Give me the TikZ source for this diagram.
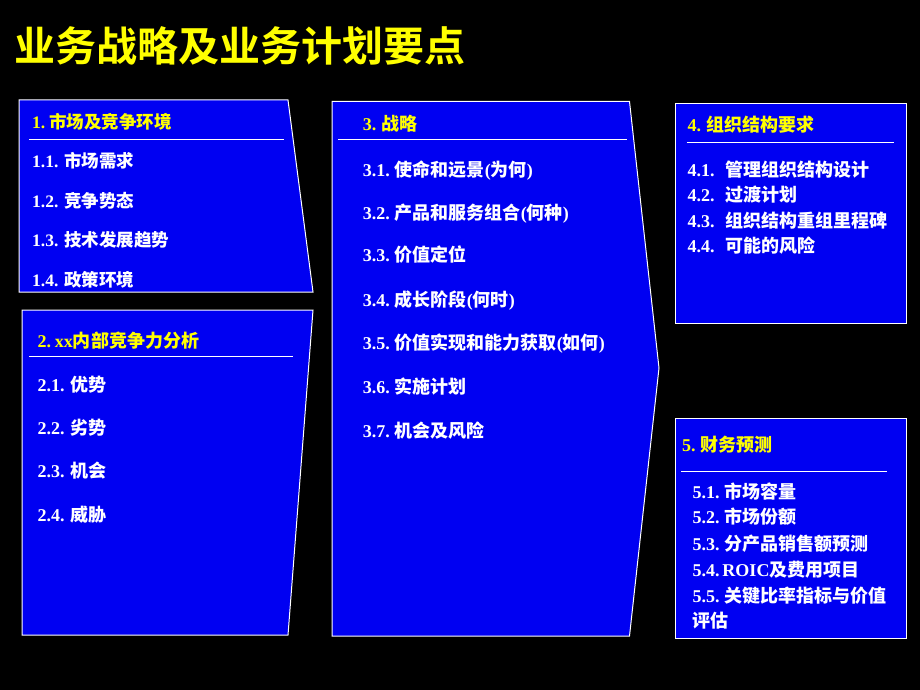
\documentclass[tikz,border=0pt]{standalone}
\usepackage{fontspec}
\setmainfont{Liberation Serif}
\newfontfamily\zhfont{Noto Sans CJK SC Bold}
\newcommand\zh[1]{{\zhfont #1}}
\definecolor{boxblue}{RGB}{0,0,242}
\definecolor{ttlyellow}{RGB}{255,255,0}
\begin{document}
\begin{tikzpicture}[x=1pt,y=-1pt,
  panel/.style={fill=boxblue,draw=white,line width=1pt},
  sepline/.style={draw=white,line width=1pt},
  head/.style={anchor=base west,inner sep=0pt,text=ttlyellow,font=\fontsize{18}{21}\selectfont\bfseries},
  item/.style={anchor=base west,inner sep=0pt,text=white,font=\fontsize{18}{21}\selectfont\bfseries},
  ]
\fill[black] (0,0) rectangle (920,690);
\useasboundingbox (0,0) rectangle (920,690);

% title
\node[anchor=base west,inner sep=0pt,text=ttlyellow,font=\fontsize{41}{46}\selectfont] (title) at (14,62) {\zh{业务战略及业务计划要点}};

% panels
\path[panel] (19,100) -- (288,100) -- (313,292) -- (19,292) -- cycle;
\path[panel] (22,310) -- (313,310) -- (288,635) -- (22,635) -- cycle;
\path[panel] (332,101.5) -- (629.5,101.5) -- (659,368) -- (629.5,636) -- (332,636) -- cycle;
\path[panel] (675.5,103.5) rectangle (906.5,323.5);
\path[panel] (675.5,418.5) rectangle (906.5,638.5);

% separators
\draw[sepline] (29,139.3) -- (284,139.3);
\draw[sepline] (29,356.7) -- (292.7,356.7);
\draw[sepline] (338.3,139.3) -- (626.7,139.3);
\draw[sepline] (686.7,142.3) -- (894,142.3);
\draw[sepline] (681.3,471) -- (886.7,471);

% box 1
\node[head,font=\fontsize{17.5}{21}\selectfont\bfseries] (h1) at (32,128.7) {1.\hspace{4pt}\zh{市场及竞争环境}};
\node[item,font=\fontsize{17.5}{21}\selectfont\bfseries] (i11) at (32,167) {1.1.\hspace{6pt}\zh{市场需求}};
\node[item,font=\fontsize{17.5}{21}\selectfont\bfseries] (i12) at (32,207) {1.2.\hspace{6pt}\zh{竞争势态}};
\node[item,font=\fontsize{17.5}{21}\selectfont\bfseries] (i13) at (32,246) {1.3.\hspace{6pt}\zh{技术发展趋势}};
\node[item,font=\fontsize{17.5}{21}\selectfont\bfseries] (i14) at (32,286) {1.4.\hspace{6pt}\zh{政策环境}};

% box 2
\node[head] (h2) at (37.3,347) {2.\hspace{4pt}xx\zh{内部竞争力分析}};
\node[item] (i21) at (37.3,391) {2.1.\hspace{6pt}\zh{优势}};
\node[item] (i22) at (37.3,434.7) {2.2.\hspace{6pt}\zh{劣势}};
\node[item] (i23) at (37.3,477.7) {2.3.\hspace{6pt}\zh{机会}};
\node[item] (i24) at (37.3,521.3) {2.4.\hspace{6pt}\zh{威胁}};

% box 3
\node[head] (h3) at (362.7,130.3) {3.\hspace{5pt}\zh{战略}};
\node[item] (i31) at (362.7,176) {3.1.\hspace{5pt}\zh{使命和远景}(\zh{为何})};
\node[item] (i32) at (362.7,219.3) {3.2.\hspace{5pt}\zh{产品和服务组合}(\zh{何种})};
\node[item] (i33) at (362.7,261.3) {3.3.\hspace{5pt}\zh{价值定位}};
\node[item] (i34) at (362.7,306.3) {3.4.\hspace{5pt}\zh{成长阶段}(\zh{何时})};
\node[item] (i35) at (362.7,349.3) {3.5.\hspace{5pt}\zh{价值实现和能力获取}(\zh{如何})};
\node[item] (i36) at (362.7,393) {3.6.\hspace{5pt}\zh{实施计划}};
\node[item] (i37) at (362.7,437.7) {3.7.\hspace{5pt}\zh{机会及风险}};

% box 4
\node[head] (h4) at (687.3,131.3) {4.\hspace{5pt}\zh{组织结构要求}};
\node[item] (i41) at (687.3,176) {4.1.\hspace{11pt}\zh{管理组织结构设计}};
\node[item] (i42) at (687.3,201.3) {4.2.\hspace{11pt}\zh{过渡计划}};
\node[item] (i43) at (687.3,227) {4.3.\hspace{11pt}\zh{组织结构重组里程碑}};
\node[item] (i44) at (687.3,252.7) {4.4.\hspace{11pt}\zh{可能的风险}};

% box 5
\node[head] (h5) at (682,451.3) {5.\hspace{5pt}\zh{财务预测}};
\node[item] (i51) at (692.3,498) {5.1.\hspace{5pt}\zh{市场容量}};
\node[item] (i52) at (692.3,523.7) {5.2.\hspace{5pt}\zh{市场份额}};
\node[item] (i53) at (692.3,550.3) {5.3.\hspace{5pt}\zh{分产品销售额预测}};
\node[item] (i54) at (692.3,576.3) {5.4.\hspace{3pt}ROIC\zh{及费用项目}};
\node[item] (i55) at (692.3,602) {5.5.\hspace{5pt}\zh{关键比率指标与价值}};
\node[item] (i55b) at (692.3,627.7) {\zh{评估}};
\end{tikzpicture}
\end{document}
